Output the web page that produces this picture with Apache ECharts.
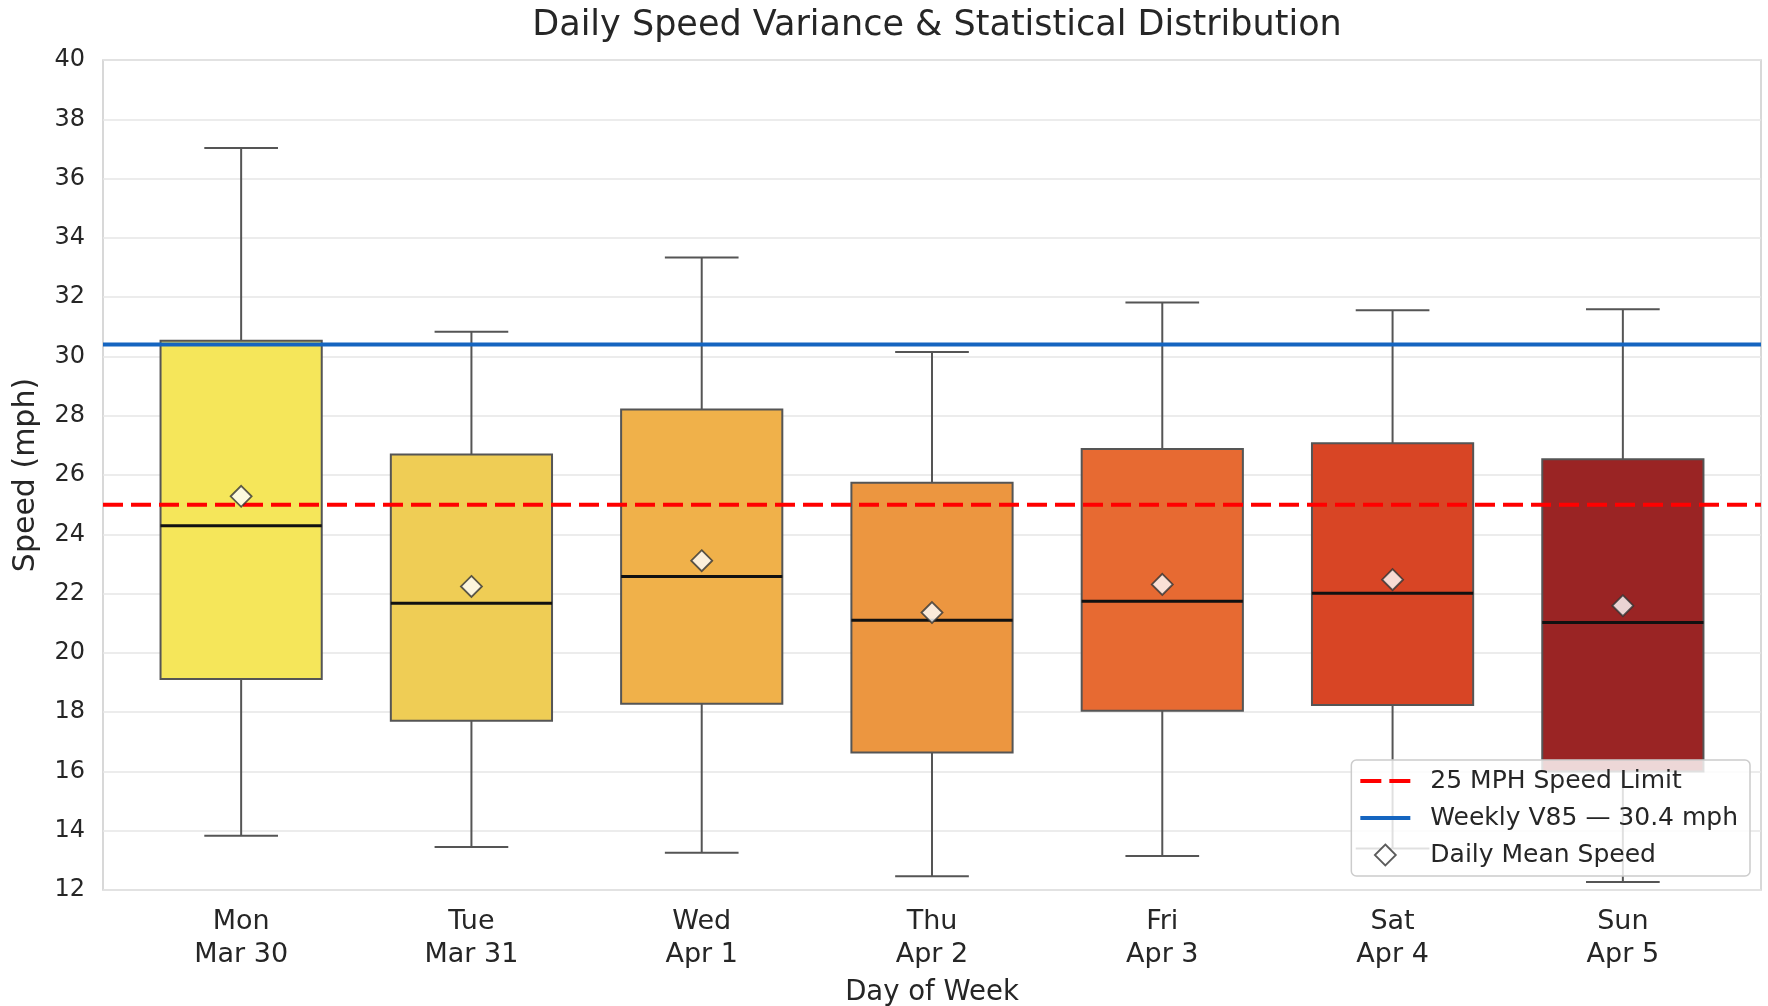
<!DOCTYPE html>
<html>
<head>
<meta charset="utf-8">
<script src="https://cdn.jsdelivr.net/npm/echarts@6/dist/echarts.min.js"></script>
<style>
html,body{margin:0;padding:0;background:#fff;}
#chart{width:1768px;height:1006px;}
</style>
</head>
<body>
<div id="chart"></div>
<script>
// ---- data ----
const DAYS = ['Mon', 'Tue', 'Wed', 'Thu', 'Fri', 'Sat', 'Sun'];
const DATES = ['Mar 30', 'Mar 31', 'Apr 1', 'Apr 2', 'Apr 3', 'Apr 4', 'Apr 5'];
const WHISKER_LOW = [13.83, 13.45, 13.26, 12.46, 13.15, 13.4, 12.27];
const Q1 = [19.12, 17.71, 18.28, 16.64, 18.05, 18.24, 16.0];
const MEDIAN = [24.29, 21.67, 22.58, 21.10, 21.74, 22.01, 21.02];
const Q3 = [30.53, 26.69, 28.21, 25.74, 26.88, 27.07, 26.53];
const WHISKER_HIGH = [37.03, 30.83, 33.34, 30.15, 31.82, 31.56, 31.59];
const MEANS = [25.28, 22.24, 23.11, 21.36, 22.31, 22.47, 21.59];
const SPEED_LIMIT = 25;
const WEEKLY_V85 = 30.4;
const Y_TICKS = [12, 14, 16, 18, 20, 22, 24, 26, 28, 30, 32, 34, 36, 38, 40];

// ---- styles ----
const BOX_COLORS = ['#f5e65a', '#efcd55', '#f0b14a', '#ec9640', '#e76a32', '#d84525', '#9a2424'];
const TEXT = '#262626';
const FONT = 'DejaVu Sans';
const X_MIN = -0.6, X_MAX = 6.6;
const RED = '#ff0000', BLUE = '#1565c0';

const categories = DAYS.map((d, i) => d + '\n' + DATES[i]);
const boxData = DAYS.map((d, i) => [i, WHISKER_LOW[i], Q1[i], MEDIAN[i], Q3[i], WHISKER_HIGH[i]]);
const meanData = MEANS.map((m, i) => [i, m]);

const chart = echarts.init(document.getElementById('chart'), null, {renderer: 'canvas'});

const option = {
  backgroundColor: '#ffffff',
  animation: false,
  textStyle: {fontFamily: FONT},
  title: {
    text: 'Daily Speed Variance & Statistical Distribution',
    left: 932, textAlign: 'center', top: 3,
    textStyle: {fontFamily: FONT, fontSize: 35, fontWeight: 'normal', color: TEXT}
  },
  grid: [
    {left: 103, right: 7, top: 60, bottom: 116, show: true, borderColor: '#cccccc', borderWidth: 1.5,
     backgroundColor: '#ffffff', containLabel: false, outerBoundsMode: 'none'},
    {left: 126, right: 30, top: 60, bottom: 116, containLabel: false, outerBoundsMode: 'none'}
  ],
  xAxis: [
    {gridIndex: 0, type: 'value', min: X_MIN, max: X_MAX, show: false},
    {gridIndex: 1, type: 'category', data: categories, boundaryGap: true,
     axisLine: {show: false}, axisTick: {show: false}, splitLine: {show: false},
     axisLabel: {fontFamily: FONT, fontSize: 27, color: TEXT, lineHeight: 33, margin: 15, interval: 0},
     name: 'Day of Week', nameLocation: 'middle', nameGap: 89,
     nameTextStyle: {fontFamily: FONT, fontSize: 27.5, color: TEXT}}
  ],
  yAxis: [
    {gridIndex: 0, type: 'value', min: Y_TICKS[0], max: Y_TICKS[Y_TICKS.length - 1], interval: 2,
     axisLine: {show: false}, axisTick: {show: false},
     axisLabel: {fontFamily: FONT, fontSize: 24, color: TEXT, margin: 18},
     splitLine: {show: true, lineStyle: {color: '#e6e6e6', width: 1.5}},
     name: 'Speed (mph)', nameLocation: 'middle', nameGap: 62, nameRotate: 90,
     nameTextStyle: {fontFamily: FONT, fontSize: 30, color: TEXT}},
    {gridIndex: 1, type: 'value', min: Y_TICKS[0], max: Y_TICKS[Y_TICKS.length - 1], interval: 2, show: false,
     splitLine: {show: false}}
  ],
  legend: {
    orient: 'vertical', right: 18, bottom: 130,
    selectedMode: false, z: 20,
    backgroundColor: 'rgba(255,255,255,0.82)', borderColor: '#cccccc', borderWidth: 1.5, borderRadius: 5,
    padding: [6, 12, 6, 9],
    itemWidth: 50, itemHeight: 21, itemGap: 7,
    symbolKeepAspect: true,
    textStyle: {fontFamily: FONT, fontSize: 25, color: TEXT, lineHeight: 30, padding: [0, 0, 0, 15]},
    data: [
      {name: '25 MPH Speed Limit', icon: 'path://M0,0h21v4h-21z M29,0h21v4h-21z',
       itemStyle: {color: RED, borderWidth: 0}},
      {name: 'Weekly V85 — 30.4 mph', icon: 'path://M0,0h50v4h-50z',
       itemStyle: {color: BLUE, borderWidth: 0}},
      {name: 'Daily Mean Speed', icon: 'path://M10,0L20,10L10,20L0,10Z',
       itemStyle: {color: '#ffffff', borderColor: '#333333', borderWidth: 1.8}}
    ]
  },
  series: [
    {
      name: 'Boxes', type: 'custom', xAxisIndex: 1, yAxisIndex: 1, z: 2,
      data: boxData,
      encode: {x: 0, y: [1, 2, 3, 4, 5]},
      renderItem: function (params, api) {
        const x = api.value(0);
        const pLo = api.coord([x, api.value(1)]);
        const pQ1 = api.coord([x, api.value(2)]);
        const pMed = api.coord([x, api.value(3)]);
        const pQ3 = api.coord([x, api.value(4)]);
        const pHi = api.coord([x, api.value(5)]);
        const band = api.size([1, 0])[0];
        const bw = band * 0.7, cw = band * 0.32;
        const cx = pQ1[0];
        const wStyle = {stroke: '#555555', lineWidth: 2};
        return {
          type: 'group',
          children: [
            {type: 'line', shape: {x1: cx, y1: pHi[1], x2: cx, y2: pQ3[1]}, style: wStyle},
            {type: 'line', shape: {x1: cx, y1: pQ1[1], x2: cx, y2: pLo[1]}, style: wStyle},
            {type: 'line', shape: {x1: cx - cw / 2, y1: pHi[1], x2: cx + cw / 2, y2: pHi[1]}, style: wStyle},
            {type: 'line', shape: {x1: cx - cw / 2, y1: pLo[1], x2: cx + cw / 2, y2: pLo[1]}, style: wStyle},
            {type: 'rect', shape: {x: cx - bw / 2, y: pQ3[1], width: bw, height: pQ1[1] - pQ3[1]},
             style: {fill: BOX_COLORS[params.dataIndex], stroke: '#555555', lineWidth: 2}},
            {type: 'line', shape: {x1: cx - bw / 2, y1: pMed[1], x2: cx + bw / 2, y2: pMed[1]},
             style: {stroke: '#111111', lineWidth: 3}}
          ]
        };
      }
    },
    {
      name: '25 MPH Speed Limit', type: 'line', xAxisIndex: 0, yAxisIndex: 0, z: 3,
      data: [[X_MIN, SPEED_LIMIT], [X_MAX, SPEED_LIMIT]],
      symbol: 'none', silent: true,
      itemStyle: {color: RED},
      lineStyle: {color: RED, width: 4, type: [20, 8]}
    },
    {
      name: 'Weekly V85 — 30.4 mph', type: 'line', xAxisIndex: 0, yAxisIndex: 0, z: 3,
      data: [[X_MIN, WEEKLY_V85], [X_MAX, WEEKLY_V85]],
      symbol: 'none', silent: true,
      itemStyle: {color: BLUE},
      lineStyle: {color: BLUE, width: 4}
    },
    {
      name: 'Daily Mean Speed', type: 'scatter', xAxisIndex: 1, yAxisIndex: 1, z: 4,
      data: meanData,
      symbol: 'diamond', symbolSize: [21, 21],
      itemStyle: {color: '#ffffff', borderColor: '#333333', borderWidth: 1.8}
    }
  ]
};
chart.setOption(option);
</script>
</body>
</html>
